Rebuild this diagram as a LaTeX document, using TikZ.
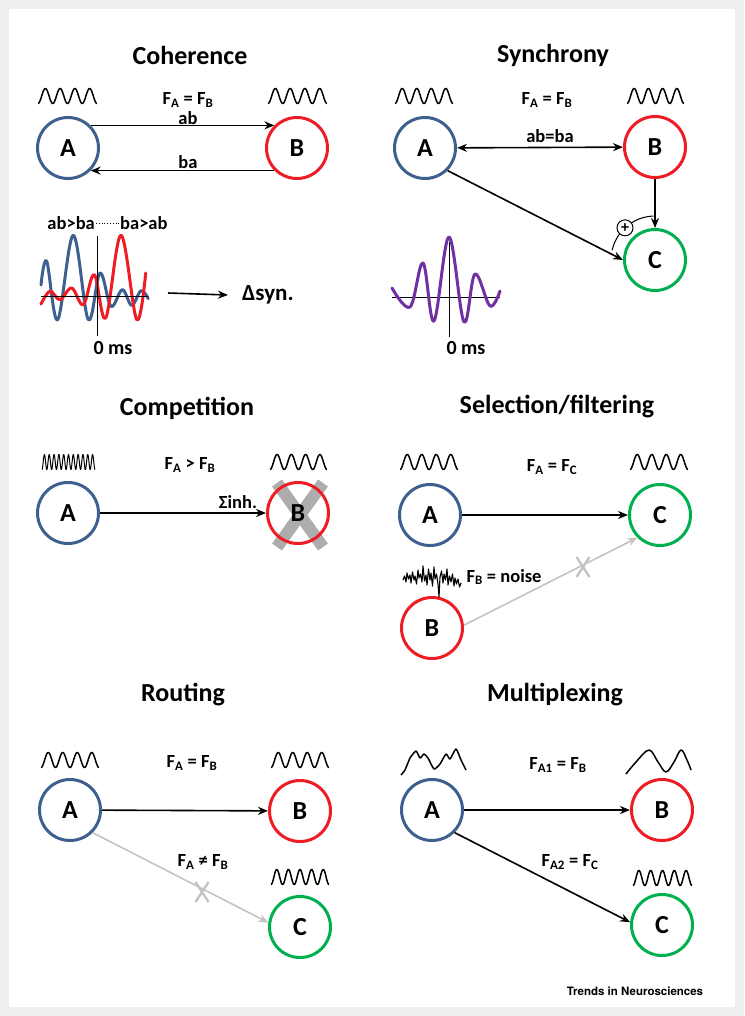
\documentclass[tikz,border=0pt]{standalone}
\usepackage{fontspec}
\setmainfont{Carlito}
\newfontfamily\footfont{TeX Gyre Heros}
\usetikzlibrary{arrows.meta, positioning}
\definecolor{popblue}{RGB}{61,96,143}
\definecolor{popred}{RGB}{238,28,36}
\definecolor{popgreen}{RGB}{0,176,80}
\definecolor{poppurple}{RGB}{112,48,160}
\definecolor{blockgray}{RGB}{196,196,196}
\definecolor{crossgray}{RGB}{165,165,165}
\definecolor{framegray}{RGB}{238,238,238}
\tikzset{
    pop/.style={
        circle, line width=3pt, minimum size=61pt, inner sep=0pt,
        font=\fontsize{26}{30}\selectfont\bfseries
    },
    popA/.style={pop, draw=popblue},
    popB/.style={pop, draw=popred},
    popC/.style={pop, draw=popgreen},
    title/.style={font=\fontsize{26}{30}\selectfont\bfseries},
    lbl/.style={font=\fontsize{18.5}{22}\selectfont\bfseries, inner sep=1pt},
    link/.style={-{Stealth[length=10pt, width=8pt]}, line width=1.6pt, draw=black},
    both/.style={link, {Stealth[length=10pt, width=8pt]}-{Stealth[length=10pt, width=8pt]}},
    blocked/.style={link, draw=blockgray},
    wave/.style={line width=1.5pt, line join=round},
    trace/.style={line width=3pt, line join=round, line cap=round},
    axis/.style={line width=0.9pt}
}
\newcommand{\oscline}[5]{\draw[wave] plot[domain=0:#3, samples=150] ({#1+\x},{#2+#5*cos(360*#4/#3*\x)});}
\newcommand{\blockmark}[1]{\draw[blockgray, line width=2.4pt] ([shift={(-6.5,-10)}]#1) -- ([shift={(6.5,10)}]#1) ([shift={(6.5,-10)}]#1) -- ([shift={(-6.5,10)}]#1);}

\begin{document}
\begin{tikzpicture}[x=1pt, y=-1pt]
    \fill[framegray] (0,0) rectangle (744,1016);
    \fill[white] (9,9) rectangle (735,1007);

    % Coherence
    \node[title] (cohT) at (190,55) {Coherence};
    \node[popA] (cohA) at (68,148) {A};
    \node[popB] (cohB) at (297,148) {B};
    \oscline{38}{96}{59}{4}{7.5}
    \oscline{268}{96}{59}{4}{7.5}
    \node[lbl] (cohF) at (188,100) {F\textsubscript{A} = F\textsubscript{B}};
    \node[lbl] (cohab) at (188,118) {ab};
    \node[lbl] (cohba) at (188,162) {ba};
    \draw[link] (cohA.45) -- (cohB.135);
    \draw[link] (cohB.-135) -- (cohA.-45);
    \node[lbl, anchor=east] (cohlag1) at (96,223) {ab>ba};
    \node[lbl, anchor=west] (cohlag2) at (119,223) {ba>ab};
    \draw[dotted, line width=0.8pt] (cohlag1.east) -- (cohlag2.west);
    \draw[trace, popblue] plot[smooth, tension=0.6] coordinates {(41,285) (46.7,261.3) (57.7,319.7) (73.3,235.3) (88.3,319.7) (100,273) (111,306.3) (122.3,289.7) (131.7,305.3) (141,290.7) (148.3,298.7)};
    \draw[trace, popred] plot[smooth, tension=0.6] coordinates {(41,304) (50,291.3) (60,299.7) (71.7,288) (83.3,304.7) (94.3,274.7) (105.7,318) (121,235.3) (136.7,319.7) (145.7,273)};
    \draw[axis] (97,236) -- (97,336);
    \draw[axis] (41,296) -- (148,296);
    \node[lbl, font=\fontsize{20}{24}\selectfont\bfseries] (coh0) at (113,348) {0 ms};
    \coordinate (cohout) at (168,293);
    \node[lbl, anchor=west, font=\fontsize{23}{26}\selectfont\bfseries] (cohdsyn) at (241,295) {Δsyn.};
    \draw[link] (cohout) -- ([xshift=-13pt]cohdsyn.west);

    % Synchrony
    \node[title] (synT) at (553,55) {Synchrony};
    \node[popA] (synA) at (425,148) {A};
    \node[popB] (synB) at (655,147) {B};
    \node[popC] (synC) at (655,260) {C};
    \oscline{395}{96}{58}{4}{7.5}
    \oscline{627}{96}{57}{4}{7.5}
    \node[lbl] (synF) at (547,100) {F\textsubscript{A} = F\textsubscript{B}};
    \node[lbl] (synab) at (550,136) {ab=ba};
    \draw[both] (synA) -- (synB);
    \draw[link] (synB) -- (synC);
    \draw[link] (synA.-45) -- (synC.west);
    \draw[line width=1pt] ([shift={(-167:44)}]synC.center) arc[start angle=-167, end angle=-92, radius=44];
    \node[circle, draw, line width=1pt, fill=white, minimum size=16pt, inner sep=0pt, font=\fontsize{16}{16}\selectfont\bfseries] (synplus) at ([shift={(-133:44)}]synC.center) {+};
    \draw[axis] (449,242) -- (449,337);
    \draw[axis] (392,297) -- (500,297);
    \draw[trace, poppurple] plot[smooth, tension=0.6] coordinates {(392,288) (410,307) (423,263) (434,321) (449,237) (464,322) (475,274) (490,306) (500,291)};
    \node[lbl, font=\fontsize{20}{24}\selectfont\bfseries] (syn0) at (466,348) {0 ms};

    % Competition
    \node[title] (comT) at (187,408) {Competition};
    \node[popA] (comA) at (68,513) {A};
    \coordinate (comX) at (300,515);
    \draw[crossgray, line width=12pt, opacity=0.9] ([shift={(-23,-32)}]comX) -- ([shift={(23,32)}]comX) ([shift={(23,-32)}]comX) -- ([shift={(-23,32)}]comX);
    \node[popB] (comB) at (298,513) {B};
    \draw[wave, line width=1pt] plot[domain=0:53, samples=300] ({42+\x},{462+7.5*cos(360*11/53*\x)});
    \oscline{270}{462}{57}{4}{7.5}
    \node[lbl] (comF) at (190,465) {F\textsubscript{A} > F\textsubscript{B}};
    \node[lbl] (cominh) at (238,502) {Σinh.};
    \draw[link] (comA) -- (comB);

    % Selection/filtering
    \node[title] (selT) at (557,407) {Selection/filtering};
    \node[popA] (selA) at (430,515) {A};
    \node[popC] (selC) at (660,515) {C};
    \node[popB] (selB) at (432,628) {B};
    \oscline{400}{462}{58}{4}{7.5}
    \oscline{630}{462}{58}{4}{7.5}
    \node[lbl] (selF) at (552,467) {F\textsubscript{A} = F\textsubscript{C}};
    \draw[link] (selA) -- (selC);
    \draw[wave, line width=1.1pt] plot coordinates {(403,580) (404.5,576) (406,582) (407,573) (408.5,579) (410,575) (411,583) (412.5,572) (414,580) (415,576) (416.5,584) (418,570) (419,578) (420.5,574) (422,582) (423,566) (424.5,581) (426,575) (427,585) (428.5,569) (430,580) (431,573) (432.5,586) (434,567) (435,579) (436.5,574) (438,584) (439,597) (440,577) (441.5,571) (443,583) (444,574) (445.5,580) (447,569) (448,585) (449.5,576) (451,582) (452.5,574) (454,586) (455,578) (456.5,584) (458,579) (459.5,587) (461,583)};
    \node[lbl] (selnoise) at (504,577) {F\textsubscript{B} = noise};
    \draw[blocked] (selB.5) -- (selC.-135);
    \coordinate (selx) at (583,567);
    \blockmark{selx}

    % Routing
    \node[title] (rouT) at (183,695) {Routing};
    \node[popA] (rouA) at (70,810) {A};
    \node[popB] (rouB) at (300,811) {B};
    \node[popC] (rouC) at (300,927) {C};
    \oscline{41}{760}{58}{4}{7.5}
    \oscline{271}{760}{58}{4}{7.5}
    \oscline{271}{877}{58}{5}{7.5}
    \node[lbl] (rouF) at (192,763) {F\textsubscript{A} = F\textsubscript{B}};
    \node[lbl] (rouN) at (203,862) {F\textsubscript{A} ≠ F\textsubscript{B}};
    \draw[link] (rouA) -- (rouB);
    \draw[blocked] (rouA.-45) -- (rouC.172);
    \coordinate (roux) at (202,892);
    \blockmark{roux}

    % Multiplexing
    \node[title] (mulT) at (555,695) {Multiplexing};
    \node[popA] (mulA) at (432,810) {A};
    \node[popB] (mulB) at (662,810) {B};
    \node[popC] (mulC) at (662,925) {C};
    \draw[wave] plot[smooth, tension=0.35] coordinates {(401,775) (405,770) (410,758) (416,751) (420,758) (424,754) (428,758) (434,769) (440,764) (446,754) (450,759) (456,749) (461,760) (466,770)};
    \draw[wave] plot[smooth, tension=0.6] coordinates {(626,774) (636,762) (649,750) (658,762) (666,772) (674,762) (681,750) (687,760) (691,770)};
    \oscline{633}{878}{59}{5}{7.5}
    \node[lbl] (mulF1) at (558,765) {F\textsubscript{A1} = F\textsubscript{B}};
    \node[lbl] (mulF2) at (570,862) {F\textsubscript{A2} = F\textsubscript{C}};
    \draw[link] (mulA) -- (mulB);
    \draw[link] (mulA.-45) -- (mulC.175);

    \node[font=\footfont\fontsize{11.5}{13}\selectfont\bfseries] (journal) at (635,991) {Trends in Neurosciences};
\end{tikzpicture}
\end{document}
